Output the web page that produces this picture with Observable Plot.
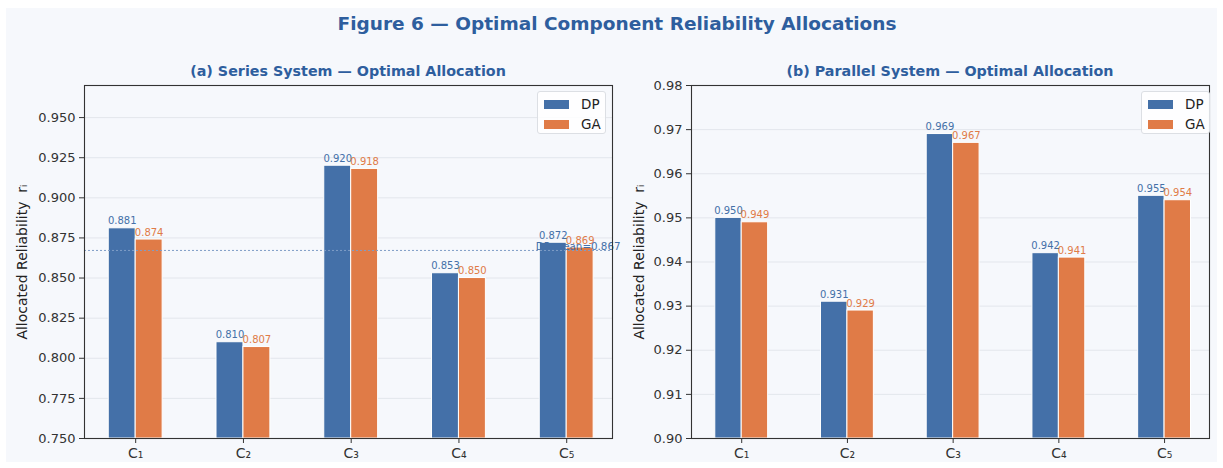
<!DOCTYPE html>
<html><head><meta charset="utf-8">
<script src="https://cdn.jsdelivr.net/npm/d3@7"></script>
<script src="https://cdn.jsdelivr.net/npm/@observablehq/plot@0.6"></script>
<style>
body{margin:0;background:#fff;font-family:"DejaVu Sans",sans-serif;}
#fig{position:relative;width:1223px;height:468px;overflow:hidden;}
#bg{position:absolute;left:6px;top:8px;width:1211px;height:454px;background:#f6f8fc;}
.abs{position:absolute;}
.title{left:0;width:1234px;top:13px;text-align:center;font-weight:bold;font-size:18.5px;color:#2e5e9e;}
.sub{font-weight:bold;font-size:14.3px;color:#2e5e9e;text-align:center;top:63px;}
.legend{background:rgba(255,255,255,0.85);border:1px solid #dcdfe4;border-radius:3px;width:67px;height:41px;font-size:13.5px;color:#222;}
.legend .row{position:absolute;left:6px;height:14px;display:flex;align-items:center;}
.legend .sw{width:25px;height:9px;margin-right:12px;}
</style>
</head><body>
<div id="fig"><div id="bg"></div></div>
<script>
const components = ["C₁","C₂","C₃","C₄","C₅"];
const seriesNames = ["DP","GA"];
const seriesDP = [0.881, 0.810, 0.920, 0.853, 0.872];
const seriesGA = [0.874, 0.807, 0.918, 0.850, 0.869];
const parallelDP = [0.950, 0.931, 0.969, 0.942, 0.955];
const parallelGA = [0.949, 0.929, 0.967, 0.941, 0.954];
const seriesTicks = [0.750, 0.775, 0.800, 0.825, 0.850, 0.875, 0.900, 0.925, 0.950];
const parallelTicks = [0.90, 0.91, 0.92, 0.93, 0.94, 0.95, 0.96, 0.97, 0.98];
const colors = ["#4470a8", "#e07b47"];
const yLabel = "Allocated Reliability  rᵢ";

const fig = document.getElementById("fig");

function add(el, css) { Object.assign(el.style, css); fig.appendChild(el); return el; }

function chart(o) {
  const rows = [];
  components.forEach((c, i) => {
    rows.push({i, c, s: "DP", v: o.dp[i]});
    rows.push({i, c, s: "GA", v: o.ga[i]});
  });
  const off = {DP: -0.125, GA: 0.125};
  const bw = 0.25;
  const marks = [
    Plot.gridY(o.ticks, {stroke: "#e3e6ec", strokeOpacity: 1, strokeWidth: 1}),
    Plot.rectY(rows, {
      x1: d => d.i + off[d.s] - bw / 2, x2: d => d.i + off[d.s] + bw / 2,
      y1: o.domain[0], y2: "v", fill: "s", stroke: "white", strokeWidth: 1
    }),
    Plot.text(rows, {
      x: d => d.i + off[d.s], y: "v", text: d => d.v.toFixed(3), fill: "s",
      lineAnchor: "bottom", dy: -4, fontSize: 10
    })
  ];
  if (o.mean != null) {
    marks.push(Plot.ruleY([o.mean], {stroke: "#7f9dc6", strokeDasharray: "2,2", strokeWidth: 1}));
    marks.push(Plot.text([o.mean], {
      y: d => d, frameAnchor: "right", text: d => "DP mean=" + d.toFixed(3),
      textAnchor: "end", dx: 8, dy: -4, fill: "#4470a8", fontSize: 10.3
    }));
  }
  marks.push(
    Plot.axisY({ticks: o.ticks, tickFormat: o.fmt, tickSize: 5, tickPadding: 4, fontSize: 13, label: null}),
    Plot.text([yLabel], {frameAnchor: "left", textAnchor: "middle", rotate: -90, dx: -o.labelDx,
      fontSize: 14, fill: "#222", text: d => d}),
    Plot.axisX({ticks: [0, 1, 2, 3, 4], tickFormat: i => components[i], tickSize: 5, tickPadding: 5, fontSize: 14, label: null}),
    Plot.frame({stroke: "#333", strokeWidth: 1.1})
  );
  return Plot.plot({
    width: o.width, height: 388,
    marginLeft: o.ml, marginRight: o.mr, marginTop: 5, marginBottom: 30,
    x: {type: "linear", domain: [-0.475, 4.425]},
    y: {domain: o.domain},
    color: {domain: seriesNames, range: colors},
    style: {background: "transparent", fontFamily: "DejaVu Sans", color: "#333", overflow: "visible"},
    marks
  });
}

const dpMean = d3.mean(seriesDP);

const left = chart({dp: seriesDP, ga: seriesGA, domain: [0.75, 0.97], ticks: seriesTicks,
  fmt: d3.format(".3f"), width: 620, ml: 84, mr: 8, labelDx: 62, mean: dpMean});
const right = chart({dp: parallelDP, ga: parallelGA, domain: [0.90, 0.98], ticks: parallelTicks,
  fmt: d3.format(".2f"), width: 613, ml: 81, mr: 14, labelDx: 52, mean: null});

add(left, {position: "absolute", left: "0px", top: "80px"});
add(right, {position: "absolute", left: "610px", top: "80px"});

const t = document.createElement("div");
t.className = "abs title";
t.textContent = "Figure 6 — Optimal Component Reliability Allocations";
fig.appendChild(t);

function sub(text, x0, x1) {
  const d = document.createElement("div");
  d.className = "abs sub";
  d.textContent = text;
  add(d, {left: x0 + "px", width: (x1 - x0) + "px"});
}
sub("(a) Series System — Optimal Allocation", 84, 612);
sub("(b) Parallel System — Optimal Allocation", 691, 1209);

function legend(x, y) {
  const lg = document.createElement("div");
  lg.className = "abs legend";
  seriesNames.forEach((s, k) => {
    const r = document.createElement("div");
    r.className = "row";
    r.style.top = (5 + k * 20) + "px";
    const sw = document.createElement("div");
    sw.className = "sw";
    sw.style.background = colors[k];
    const tx = document.createElement("span");
    tx.textContent = s;
    r.appendChild(sw); r.appendChild(tx);
    lg.appendChild(r);
  });
  add(lg, {left: x + "px", top: y + "px"});
}
legend(537, 91);
legend(1141, 91);
</script>
</body></html>
